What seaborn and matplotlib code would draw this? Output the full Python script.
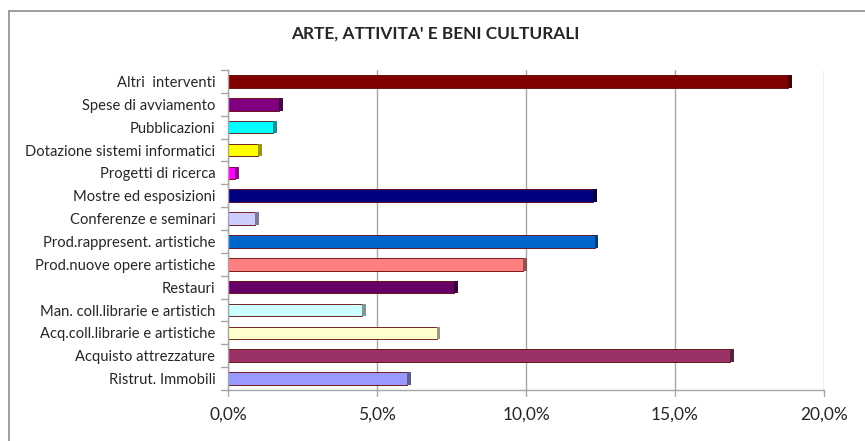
import matplotlib
matplotlib.use("Agg")
import matplotlib.pyplot as plt
import matplotlib.colors as mcolors
from matplotlib.patches import Rectangle
from matplotlib.ticker import FixedLocator, FuncFormatter
import seaborn as sns

# --- data (share of total, %) ---
categories = [
    "Altri  interventi",
    "Spese di avviamento",
    "Pubblicazioni",
    "Dotazione sistemi informatici",
    "Progetti di ricerca",
    "Mostre ed esposizioni",
    "Conferenze e seminari",
    "Prod.rappresent. artistiche",
    "Prod.nuove opere artistiche",
    "Restauri",
    "Man. coll.librarie e artistich",
    "Acq.coll.librarie e artistiche",
    "Acquisto attrezzature",
    "Ristrut. Immobili",
]
values = [18.8, 1.7, 1.5, 1.0, 0.25, 12.25, 0.9, 12.3, 9.9, 7.6, 4.5, 7.0, 16.85, 6.0]
colors = [
    "#800000", "#800080", "#00FFFF", "#FFFF00", "#FF00FF", "#000080", "#CCCCFF",
    "#0066CC", "#FF8080", "#660066", "#CCFFFF", "#FFFFCC", "#993366", "#9999FF",
]
x_ticks = [0, 5, 10, 15, 20]
title = "ARTE, ATTIVITA' E BENI CULTURALI"


def darker(c, f=0.6):
    r, g, b = mcolors.to_rgb(c)
    return (r * f, g * f, b * f)


sns.set_style("white")
plt.rcParams["font.family"] = ["Lato", "DejaVu Sans"]

fig = plt.figure(figsize=(8.65, 4.41), dpi=100)
ax = fig.add_axes([228 / 865, 1 - 390 / 441, 596 / 865, 320 / 441])

sns.barplot(x=values, y=categories, hue=categories, palette=colors,
            orient="h", width=0.55, legend=False, ax=ax, saturation=1,
            edgecolor=[darker(c, 0.75) for c in colors], linewidth=0.6)

# fake 3-D end caps: a thin darker slab at the end of each bar
ax.barh(range(len(values)), [0.13] * len(values), left=values, height=0.55,
        color=[darker(c) for c in colors], linewidth=0)

n = len(categories)
ax.set_xlim(0, 20)
ax.set_ylim(n - 0.5, -0.5)
ax.xaxis.set_major_locator(FixedLocator(x_ticks))
ax.xaxis.set_major_formatter(FuncFormatter(lambda v, p: f"{v:.1f}%".replace(".", ",")))
ax.grid(axis="x", color="#A6A6A6", linewidth=1)

for side in ["top", "right"]:
    ax.spines[side].set_visible(False)
for side in ["left", "bottom"]:
    ax.spines[side].set_color("#A6A6A6")
    ax.spines[side].set_linewidth(1)

ax.set_yticks(range(n), labels=categories)
ax.tick_params(axis="y", length=0, pad=9, labelsize=10.6)
ax.tick_params(axis="x", length=0, pad=12, labelsize=12.5)
ax.set_xlabel("")
ax.set_ylabel("")

# Excel style tick marks: between categories on y, at each value on x
tick_kw = dict(color="#A6A6A6", linewidth=1, clip_on=False)
for b in [i - 0.5 for i in range(n + 1)]:
    ax.plot([-0.011, 0], [b, b], transform=ax.get_yaxis_transform(), **tick_kw)
for t in x_ticks:
    ax.plot([t, t], [-0.018, 0], transform=ax.get_xaxis_transform(), **tick_kw)

fig.text(0.503, 1 - 34 / 441, title, ha="center", va="center",
         fontsize=12.4, fontweight="bold")

# chart area border (right/bottom edges fall outside the picture)
fig.patches.append(Rectangle((9 / 865, -0.1), 1.2, 1.1 - 11 / 441,
                             transform=fig.transFigure, fill=False,
                             edgecolor="#8C8C8C", linewidth=1.2))

fig.savefig("out.png", dpi=100)
